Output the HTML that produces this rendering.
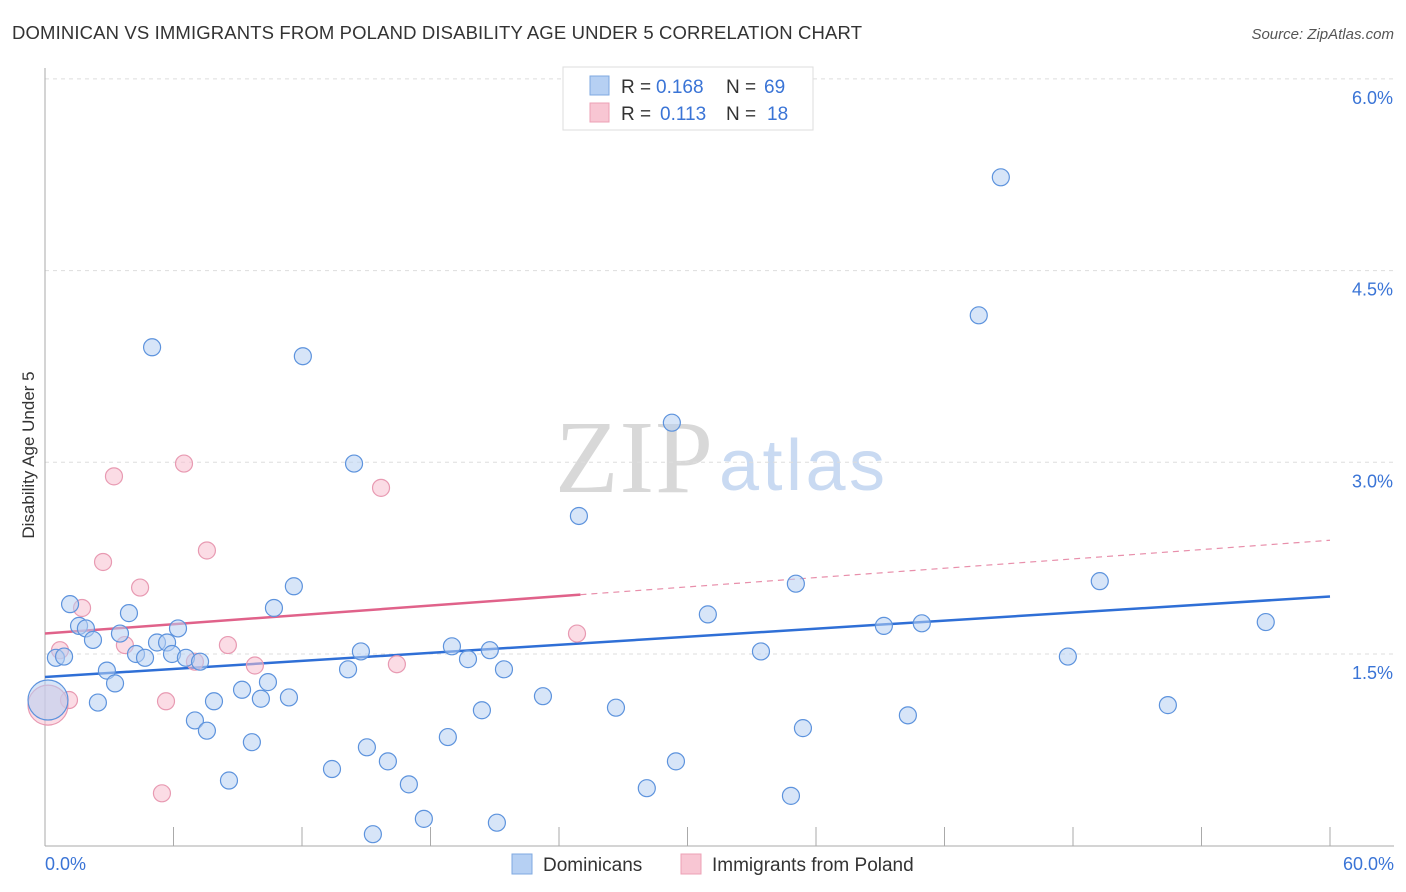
<!DOCTYPE html>
<html><head><meta charset="utf-8"><style>
body{margin:0;background:#fff;font-family:"Liberation Sans",sans-serif;}
#wrap{position:relative;width:1406px;height:892px;overflow:hidden}
</style></head><body>
<div id="wrap">
<svg id="chart" width="1406" height="892" xmlns="http://www.w3.org/2000/svg">
<text x="12" y="39" font-size="18.5" fill="#333" textLength="850">DOMINICAN VS IMMIGRANTS FROM POLAND DISABILITY AGE UNDER 5 CORRELATION CHART</text>
<text x="1394" y="39" font-size="15" fill="#555" font-style="italic" text-anchor="end">Source: ZipAtlas.com</text>
<text x="555" y="492" font-size="104" fill="#d8d8d8" textLength="158" font-family="Liberation Serif,serif">ZIP</text>
<text x="719" y="490" font-size="72" fill="#c9daf2" textLength="166">atlas</text>
<text transform="translate(34,455) rotate(-90)" font-size="17" fill="#333" text-anchor="middle">Disability Age Under 5</text>
<g id="grid"></g><g id="trend"></g><g id="pts"></g>
<g>
<rect x="563" y="67" width="250" height="63" fill="#fff" stroke="#ddd"/>
<rect x="590" y="76" width="19" height="19" fill="#b6d0f3" stroke="#7fa9e0"/>
<rect x="590" y="103" width="19" height="19" fill="#f8c6d3" stroke="#eda0b6"/>
<text x="621" y="93" font-size="19" fill="#333">R =</text>
<text x="656" y="93" font-size="19" fill="#3a74d6">0.168</text>
<text x="726" y="93" font-size="19" fill="#333">N =</text>
<text x="764" y="93" font-size="19" fill="#3a74d6">69</text>
<text x="621" y="120" font-size="19" fill="#333">R =</text>
<text x="660" y="120" font-size="19" fill="#3a74d6">0.113</text>
<text x="726" y="120" font-size="19" fill="#333">N =</text>
<text x="767" y="120" font-size="19" fill="#3a74d6">18</text>
</g>
<g>
<rect x="512" y="854" width="20" height="20" fill="#b6d0f3" stroke="#7fa9e0"/>
<text x="543" y="871" font-size="19" fill="#333">Dominicans</text>
<rect x="681" y="854" width="20" height="20" fill="#f8c6d3" stroke="#eda0b6"/>
<text x="712" y="871" font-size="19" fill="#333">Immigrants from Poland</text>
</g>
<text x="45" y="870" font-size="18" fill="#3a74d6">0.0%</text>
<text x="1394" y="870" font-size="18" fill="#3a74d6" text-anchor="end">60.0%</text>
</svg>
</div>
<script>
const yTicks=[1.5,3.0,4.5,6.0];
const yTickLabels=["1.5%","3.0%","4.5%","6.0%"];
const xTicks=[0,6,12,18,24,30,36,42,48,54,60];
const blueX=[44.63,43.60,5.00,12.04,29.27,14.43,24.93,49.25,35.06,11.62,1.17,10.69,3.92,30.95,57.00,1.59,1.91,6.21,39.17,40.94,3.50,2.24,5.23,5.70,19.00,20.77,14.75,4.25,5.93,4.67,6.58,7.24,33.43,0.51,0.89,19.75,47.76,14.15,21.43,2.89,10.41,3.27,9.20,23.25,11.39,10.08,7.89,2.47,52.43,26.66,20.40,40.29,7.00,7.56,35.39,18.81,9.66,15.03,16.01,29.46,13.40,8.59,16.99,28.10,34.83,17.69,21.10,15.31,0.14];
const blueY=[5.23,4.15,3.90,3.83,3.31,2.99,2.58,2.07,2.05,2.03,1.89,1.86,1.82,1.81,1.75,1.72,1.70,1.70,1.72,1.74,1.66,1.61,1.59,1.59,1.56,1.53,1.52,1.50,1.50,1.47,1.47,1.44,1.52,1.47,1.48,1.46,1.48,1.38,1.38,1.37,1.28,1.27,1.22,1.17,1.16,1.15,1.13,1.12,1.10,1.08,1.06,1.02,0.98,0.90,0.92,0.85,0.81,0.77,0.66,0.66,0.60,0.51,0.48,0.45,0.39,0.21,0.18,0.09,1.14];
const pinkX=[6.49,3.22,15.69,7.56,2.71,4.44,1.73,3.73,8.54,24.84,0.70,7.00,9.80,16.43,1.12,5.65,5.46,0.14];
const pinkY=[2.99,2.89,2.80,2.31,2.22,2.02,1.86,1.57,1.57,1.66,1.53,1.44,1.41,1.42,1.14,1.13,0.41,1.10];
const blueTrend=[1.32,1.95];
const pinkTrend=[1.66,2.39];
const pinkSolidEnd=25;
const NS="http://www.w3.org/2000/svg";
const X=v=>45+v*(1285/60), Y=v=>845.7-v*127.8;
function mk(t,a,p){const e=document.createElementNS(NS,t);for(const k in a)e.setAttribute(k,a[k]);p.appendChild(e);return e;}
const grid=document.getElementById('grid'),trend=document.getElementById('trend'),pts=document.getElementById('pts');
yTicks.forEach((t,i)=>{
 const l=mk('line',{x1:45,x2:1394,y1:Y(t),y2:Y(t),stroke:'#ddd','stroke-dasharray':'4,4'},grid);
 
 
 const tx=mk('text',{x:1393,y:Y(t)+25,'font-size':18,fill:'#3a74d6','text-anchor':'end'},grid);
 tx.textContent=yTickLabels[i];
 
 
});
const ax=mk('line',{x1:45,x2:45,y1:68,y2:846,stroke:'#aaa'},grid);


const bx=mk('line',{x1:45,x2:1394,y1:846,y2:846,stroke:'#aaa'},grid);


xTicks.forEach(t=>{const l=mk('line',{x1:X(t),x2:X(t),y1:827,y2:846,stroke:'#aaa'},grid);
 
 });
function ty(tr,x){return tr[0]+(tr[1]-tr[0])*x/60;}
let l1=mk('line',{x1:X(0),y1:Y(ty(blueTrend,0)),x2:X(60),y2:Y(ty(blueTrend,60)),stroke:'#2f6fd6','stroke-width':2.5},trend);


let l2=mk('line',{x1:X(0),y1:Y(ty(pinkTrend,0)),x2:X(pinkSolidEnd),y2:Y(ty(pinkTrend,pinkSolidEnd)),stroke:'#e0628a','stroke-width':2.5},trend);


let l3=mk('line',{x1:X(pinkSolidEnd),y1:Y(ty(pinkTrend,pinkSolidEnd)),x2:X(60),y2:Y(ty(pinkTrend,60)),stroke:'#e88fab','stroke-width':1.2,'stroke-dasharray':'6,5'},trend);


function dots(xs,ys,fill,stroke,name){xs.forEach((x,i)=>{
 const big=i===xs.length-1;
 const c=mk('circle',{cx:X(x),cy:Y(ys[i]),r:big?20:8.5,fill:fill,'fill-opacity':0.55,stroke:stroke,'stroke-width':1.2},pts);
 
 
});}
dots(pinkX,pinkY,'#f8c0d0','#e89ab2','point-poland');
dots(blueX,blueY,'#b6d0f3','#5d93dd','point-dominican');
</script>
</body></html>
